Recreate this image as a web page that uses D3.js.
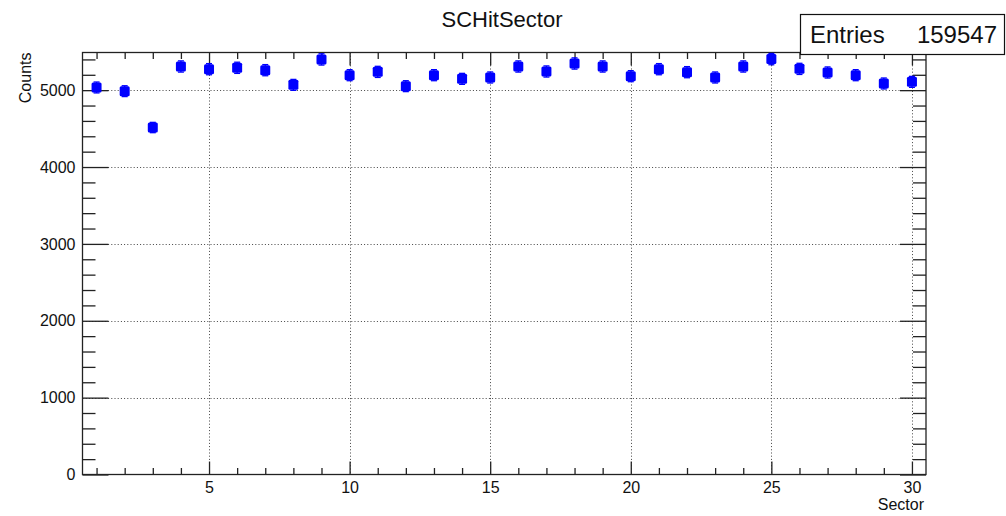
<!DOCTYPE html>
<html>
<head>
<meta charset="utf-8">
<script src="https://cdn.jsdelivr.net/npm/d3@7"></script>
<style>
  body { margin: 0; background: #fff; }
  svg { display: block; font-family: "Liberation Sans", Arial, Helvetica, sans-serif; }
</style>
</head>
<body>
<svg id="chart" width="1006" height="516"></svg>
<script>
// ---- data ----
const sectors = d3.range(1, 31);
const counts = [5035, 4987, 4514, 5308, 5273, 5291, 5260, 5069, 5400, 5195,
                5238, 5052, 5195, 5147, 5165, 5308, 5243, 5347, 5308, 5182,
                5273, 5234, 5165, 5308, 5404, 5277, 5230, 5195, 5087, 5108];
const xMajorTicks = [5, 10, 15, 20, 25, 30];
const yMajorTicks = [0, 1000, 2000, 3000, 4000, 5000];
const title = "SCHitSector";
const xTitle = "Sector";
const yTitle = "Counts";
const entries = 159547;

// ---- layout ----
const L = 82.5, R = 926, T = 52.5, B = 474.5;
const svg = d3.select("#chart");

const x = d3.scaleLinear().domain([0.5, 30.5]).range([L, R]);
const y = d3.scaleLinear().domain([0, 5490]).range([B, T]);

const xMinor = sectors.filter(v => !xMajorTicks.includes(v));
const yMinor = d3.range(200, 5490, 200).filter(v => v % 1000 !== 0);

// grid
const grid = svg.append("g").attr("stroke", "#444").attr("stroke-width", 1)
  .attr("stroke-dasharray", "1,2.2");
grid.selectAll("line.gx").data(xMajorTicks).join("line")
  .attr("x1", d => Math.round(x(d)) + 0.5).attr("x2", d => Math.round(x(d)) + 0.5)
  .attr("y1", T).attr("y2", B);
grid.selectAll("line.gy").data(yMajorTicks.filter(v => v > 0)).join("line")
  .attr("y1", d => Math.round(y(d)) + 0.5).attr("y2", d => Math.round(y(d)) + 0.5)
  .attr("x1", L).attr("x2", R);

function styleAxis(g) {
  g.select(".domain").remove();
  g.selectAll(".tick line").attr("stroke", "#222").attr("stroke-width", 1.3);
  g.selectAll(".tick text").attr("fill", "#111").style("font-size", "16px");
}

// bottom axis
svg.append("g").attr("transform", `translate(0,${B})`)
  .call(d3.axisBottom(x).tickValues(xMajorTicks).tickSize(-13).tickPadding(7).tickFormat(d3.format("d")))
  .call(styleAxis);
svg.append("g").attr("transform", `translate(0,${B})`)
  .call(d3.axisBottom(x).tickValues(xMinor).tickSize(-6.5).tickFormat(""))
  .call(styleAxis);
// top axis
svg.append("g").attr("transform", `translate(0,${T})`)
  .call(d3.axisTop(x).tickValues(xMajorTicks).tickSize(-13).tickFormat(""))
  .call(styleAxis);
svg.append("g").attr("transform", `translate(0,${T})`)
  .call(d3.axisTop(x).tickValues(xMinor).tickSize(-6.5).tickFormat(""))
  .call(styleAxis);
// left axis
svg.append("g").attr("transform", `translate(${L},0)`)
  .call(d3.axisLeft(y).tickValues(yMajorTicks).tickSize(-26).tickPadding(7).tickFormat(d3.format("d")))
  .call(styleAxis);
svg.append("g").attr("transform", `translate(${L},0)`)
  .call(d3.axisLeft(y).tickValues(yMinor).tickSize(-13).tickFormat(""))
  .call(styleAxis);
// right axis
svg.append("g").attr("transform", `translate(${R},0)`)
  .call(d3.axisRight(y).tickValues(yMajorTicks).tickSize(-26).tickFormat(""))
  .call(styleAxis);
svg.append("g").attr("transform", `translate(${R},0)`)
  .call(d3.axisRight(y).tickValues(yMinor).tickSize(-13).tickFormat(""))
  .call(styleAxis);

// frame
svg.append("rect").attr("x", L).attr("y", T).attr("width", R - L).attr("height", B - T)
  .attr("fill", "none").attr("stroke", "#222").attr("stroke-width", 1.3);

// error bars
const pts = sectors.map((s, i) => ({ s, v: counts[i], e: Math.sqrt(counts[i]) }));
const eb = svg.append("g").attr("stroke", "#0000ff").attr("stroke-width", 1.3);
eb.selectAll("line.v").data(pts).join("line")
  .attr("x1", d => x(d.s)).attr("x2", d => x(d.s))
  .attr("y1", d => y(d.v - d.e)).attr("y2", d => y(d.v + d.e));
eb.selectAll("line.lo").data(pts).join("line")
  .attr("x1", d => x(d.s) - 3).attr("x2", d => x(d.s) + 3)
  .attr("y1", d => y(d.v - d.e)).attr("y2", d => y(d.v - d.e));
eb.selectAll("line.hi").data(pts).join("line")
  .attr("x1", d => x(d.s) - 3).attr("x2", d => x(d.s) + 3)
  .attr("y1", d => y(d.v + d.e)).attr("y2", d => y(d.v + d.e));

// markers
svg.append("g").selectAll("rect").data(pts).join("rect")
  .attr("x", d => x(d.s) - 5).attr("y", d => y(d.v) - 5)
  .attr("width", 10).attr("height", 10).attr("rx", 1.5)
  .attr("fill", "#0000ff");

// title
svg.append("text").attr("x", 502).attr("y", 27).attr("text-anchor", "middle")
  .style("font-size", "22px").attr("fill", "#111").text(title);

// axis titles
svg.append("text").attr("x", 924).attr("y", 510).attr("text-anchor", "end")
  .style("font-size", "16px").attr("fill", "#111").text(xTitle);
svg.append("text").attr("transform", `translate(31,${T}) rotate(-90)`).attr("text-anchor", "end")
  .style("font-size", "16px").attr("fill", "#111").text(yTitle);

// stats box
svg.append("rect").attr("x", 800.5).attr("y", 14.5).attr("width", 204).attr("height", 40)
  .attr("fill", "#fff").attr("stroke", "#111").attr("stroke-width", 1.2);
svg.append("text").attr("x", 810).attr("y", 43).style("font-size", "24px").attr("fill", "#111").text("Entries");
svg.append("text").attr("x", 997).attr("y", 43).attr("text-anchor", "end")
  .style("font-size", "24px").attr("fill", "#111").text(entries);
</script>
</body>
</html>
